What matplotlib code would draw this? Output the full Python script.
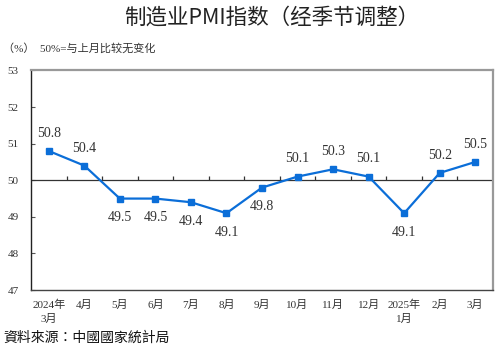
import matplotlib.pyplot as plt

plt.rcParams['font.family'] = ['Liberation Serif', 'Noto Sans CJK SC']

# 制造业PMI (经季节调整), 2024年3月 - 2025年3月
months = ['2024年\n3月', '4月', '5月', '6月', '7月', '8月', '9月',
          '10月', '11月', '12月', '2025年\n1月', '2月', '3月']
pmi = [50.8, 50.4, 49.5, 49.5, 49.4, 49.1, 49.8,
       50.1, 50.3, 50.1, 49.1, 50.2, 50.5]
yticks = [47, 48, 49, 50, 51, 52, 53]

fig = plt.figure(figsize=(5.0, 3.47), dpi=100)
ax = fig.add_axes([0.062, 0.164, 0.924, 0.633])

x = list(range(len(pmi)))
ax.plot(x, pmi, color='#0b6ed8', lw=1.6, marker='s', ms=4.2, zorder=3)

# value labels: above the point when >= 50, below otherwise
for xi, v in zip(x, pmi):
    if v >= 50:
        ax.annotate(f'{v:.1f}', (xi, v), xytext=(0, 8), textcoords='offset points',
                    ha='center', va='bottom', fontsize=10, color='#333333')
    else:
        ax.annotate(f'{v:.1f}', (xi, v), xytext=(0, -9), textcoords='offset points',
                    ha='center', va='top', fontsize=10, color='#333333')

# the 50 line acting as the category axis, with ticks between months
ax.axhline(50, color='#333333', lw=0.9, zorder=2)
ax.vlines([i + 0.5 for i in x[:-1]], 50, 50.13, color='#333333', lw=0.9, zorder=2)

ax.set_xlim(-0.5, len(pmi) - 0.5)
ax.set_ylim(47, 53)
ax.set_yticks(yticks)
ax.set_yticklabels([str(t) for t in yticks], fontsize=8, color='#333333')
ax.set_xticks(x)
ax.set_xticklabels(months, fontsize=8, color='#333333', linespacing=1.45)
ax.tick_params(axis='x', length=0, pad=7)
ax.tick_params(axis='y', direction='in', length=3, width=0.8, color='#555555', pad=9)

ax.spines['left'].set_color('#222222')
ax.spines['left'].set_linewidth(1.0)
ax.spines['bottom'].set_color('#444444')
ax.spines['bottom'].set_linewidth(1.0)
for side in ('top', 'right'):
    ax.spines[side].set_color('#999999')
    ax.spines[side].set_linewidth(1.6)

fig.text(0.543, 0.948, '制造业PMI指数（经季节调整）', ha='center', va='center',
         fontsize=15.5, fontweight='medium', color='#222222',
         family=['Noto Sans CJK SC'])
fig.text(0.006, 0.862, '（%）  50%=与上月比较无变化', ha='left', va='center',
         fontsize=8, color='#333333')
fig.text(0.006, 0.028, '資料來源：中國國家統計局', ha='left', va='center',
         fontsize=10, color='#111111', family=['Noto Sans CJK TC'])

fig.savefig('out.png', dpi=100)
